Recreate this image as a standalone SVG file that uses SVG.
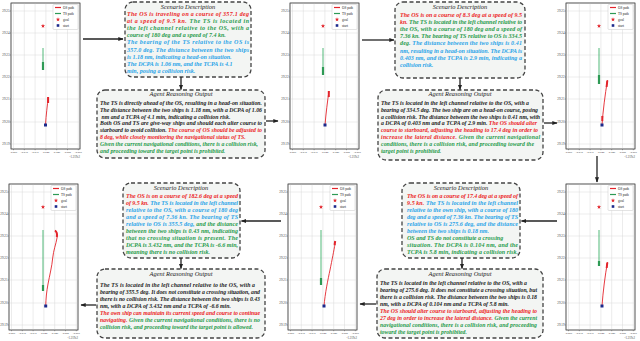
<svg xmlns="http://www.w3.org/2000/svg" xmlns:xlink="http://www.w3.org/1999/xlink" width="640" height="341" viewBox="0 0 640 341">
<style>
.bg{fill:#fff}
.box{fill:#f3f5f3;stroke:#444;stroke-width:1.3;stroke-dasharray:4 2.5}
.ttl{font-family:"Liberation Serif",serif;font-style:italic;font-size:6.4px;fill:#222;text-anchor:middle}
.t{font-family:"Liberation Serif",serif;font-style:italic;font-weight:bold;font-size:5.8px;fill:#1a1a1a}
.s{font-size:6px}
.r{fill:#ec1c24}.g{fill:#1e9a4a}.b{fill:#27a3e8}
.ax{fill:#fff;stroke:#555;stroke-width:0.6}
.axf{fill:none;stroke:#555;stroke-width:0.6}
.grid{fill:none;stroke:#d9d9d9;stroke-width:0.5}
.yl{font-family:"Liberation Serif",serif;font-size:3.2px;fill:#444;text-anchor:end}
.xl{font-family:"Liberation Serif",serif;font-size:2.7px;fill:#444;text-anchor:middle}
.off{font-family:"Liberation Serif",serif;font-size:3px;fill:#444;text-anchor:end}
.lg{font-family:"Liberation Serif",serif;font-size:3.4px;fill:#222}
.lgbox{fill:#fff;stroke:#bbb;stroke-width:0.4}
.os{fill:none;stroke:#e3242b;stroke-width:0.9}
.osk{fill:none;stroke:#e3242b;stroke-width:2}
.ts{fill:none;stroke:#3cb06a;stroke-width:0.9}
.tsk{fill:none;stroke:#2e9a55;stroke-width:2.2}
.st{fill:#1c2a8c}
.gl{fill:#e3242b}
.arr{stroke:#222;stroke-width:1.3;fill:none;marker-end:url(#ah)}
</style>
<defs>
<marker id="ah" viewBox="0 0 10 10" refX="9" refY="5" markerWidth="4" markerHeight="4" orient="auto"><path d="M0,1 L10,5 L0,9 z" fill="#222"/></marker>
<path id="star" d="M0,-2.2 L0.53,-0.73 L2.09,-0.68 L0.86,0.28 L1.29,1.78 L0,0.9 L-1.29,1.78 L-0.86,0.28 L-2.09,-0.68 L-0.53,-0.73 Z"/>
<g id="frame">
<rect class="ax" x="0" y="0" width="69" height="146"/>
<path class="grid" d="M2.5,0V146M13.3,0V146M24.1,0V146M34.9,0V146M45.7,0V146M56.5,0V146M67.3,0V146M0,8H69M0,30H69M0,52H69M0,74H69M0,96H69M0,119H69M0,141H69"/>
<rect class="axf" x="0" y="0" width="69" height="146"/>
<path stroke="#555" stroke-width="0.5" d="M-1.2,8H0M-1.2,30H0M-1.2,52H0M-1.2,74H0M-1.2,96H0M-1.2,119H0M-1.2,141H0M2.5,146V147.2M13.3,146V147.2M24.1,146V147.2M34.9,146V147.2M45.7,146V147.2M56.5,146V147.2M67.3,146V147.2"/>
<rect class="lgbox" x="42" y="1.5" width="25" height="25" rx="1"/>
<path d="M44,4.5H50" stroke="#e3242b" stroke-width="1.2"/>
<path d="M44,10.5H50" stroke="#2e9a55" stroke-width="1.2"/>
<use xlink:href="#star" x="47" y="16.5" style="fill:#e3242b"/>
<rect x="45.7" y="21.2" width="2.6" height="2.6" class="st"/>
</g>
</defs>
<rect class="bg" x="0" y="0" width="640" height="341"/>

<g id="plotA" transform="translate(11,3)">
<use xlink:href="#frame"/>
<text class="yl"><tspan x="-1.5" y="9.1">29.25</tspan><tspan x="-1.5" y="31.1">29.24</tspan><tspan x="-1.5" y="53.1">29.23</tspan><tspan x="-1.5" y="75.1">29.22</tspan><tspan x="-1.5" y="97.1">29.21</tspan><tspan x="-1.5" y="120.1">29.20</tspan><tspan x="-1.5" y="142.1">29.19</tspan></text>
<text class="xl"><tspan x="2.5" y="149.8">-0.025</tspan><tspan x="13.3" y="149.8">-0.030</tspan><tspan x="24.1" y="149.8">-0.035</tspan><tspan x="34.9" y="149.8">-0.040</tspan><tspan x="45.7" y="149.8">-0.045</tspan><tspan x="56.5" y="149.8">-0.050</tspan><tspan x="67.3" y="149.8">-0.055</tspan></text>
<text class="off" x="69" y="154.5">-1.219e2</text>
<text class="lg"><tspan x="52" y="5.6">OS path</tspan><tspan x="52" y="11.6">TS path</tspan><tspan x="52" y="17.6">goal</tspan><tspan x="52" y="23.6">start</tspan></text>
<path class="ts" d="M32,45V60"/><path class="tsk" d="M32,59V67"/>
<path class="os" d="M34.5,122 C35,112 36.5,102 37.2,94"/><path class="osk" d="M37.1,94V100"/>
<use xlink:href="#star" x="32" y="23" style="fill:#e3242b"/>
<rect class="st" x="33" y="120.5" width="3" height="3"/>
</g>

<g id="plotB" transform="translate(290,3)">
<use xlink:href="#frame"/>
<text class="yl"><tspan x="-1.5" y="9.1">29.25</tspan><tspan x="-1.5" y="31.1">29.24</tspan><tspan x="-1.5" y="53.1">29.23</tspan><tspan x="-1.5" y="75.1">29.22</tspan><tspan x="-1.5" y="97.1">29.21</tspan><tspan x="-1.5" y="120.1">29.20</tspan><tspan x="-1.5" y="142.1">29.19</tspan></text>
<text class="xl"><tspan x="2.5" y="149.8">-0.025</tspan><tspan x="13.3" y="149.8">-0.030</tspan><tspan x="24.1" y="149.8">-0.035</tspan><tspan x="34.9" y="149.8">-0.040</tspan><tspan x="45.7" y="149.8">-0.045</tspan><tspan x="56.5" y="149.8">-0.050</tspan><tspan x="67.3" y="149.8">-0.055</tspan></text>
<text class="off" x="69" y="154.5">-1.219e2</text>
<text class="lg"><tspan x="52" y="5.6">OS path</tspan><tspan x="52" y="11.6">TS path</tspan><tspan x="52" y="17.6">goal</tspan><tspan x="52" y="23.6">start</tspan></text>
<path class="ts" d="M33,45V66"/><path class="tsk" d="M33,64V72"/>
<path class="os" d="M35,122 C36,110 37.5,98 39,88"/><path class="osk" d="M38.8,88V94"/>
<use xlink:href="#star" x="33" y="23" style="fill:#e3242b"/>
<rect class="st" x="33.5" y="120.5" width="3" height="3"/>
</g>

<g id="plotC" transform="translate(566,3)">
<use xlink:href="#frame"/>
<text class="yl"><tspan x="-1.5" y="9.1">29.25</tspan><tspan x="-1.5" y="31.1">29.24</tspan><tspan x="-1.5" y="53.1">29.23</tspan><tspan x="-1.5" y="75.1">29.22</tspan><tspan x="-1.5" y="97.1">29.21</tspan><tspan x="-1.5" y="120.1">29.20</tspan><tspan x="-1.5" y="142.1">29.19</tspan></text>
<text class="xl"><tspan x="2.5" y="149.8">-0.025</tspan><tspan x="13.3" y="149.8">-0.030</tspan><tspan x="24.1" y="149.8">-0.035</tspan><tspan x="34.9" y="149.8">-0.040</tspan><tspan x="45.7" y="149.8">-0.045</tspan><tspan x="56.5" y="149.8">-0.050</tspan><tspan x="67.3" y="149.8">-0.055</tspan></text>
<text class="off" x="69" y="154.5">-1.219e2</text>
<text class="lg"><tspan x="52" y="5.6">OS path</tspan><tspan x="52" y="11.6">TS path</tspan><tspan x="52" y="17.6">goal</tspan><tspan x="52" y="23.6">start</tspan></text>
<path class="ts" d="M33,45V72"/><path class="tsk" d="M33,72V81"/>
<path class="os" d="M36,122 C37,108 39,92 41.5,77"/><path class="osk" d="M36.3,113V118M41.3,77.5L40.6,84"/>
<use xlink:href="#star" x="33" y="23" style="fill:#e3242b"/>
<rect class="st" x="34.5" y="120.5" width="3" height="3"/>
</g>

<g id="plotD" transform="translate(9,184)">
<use xlink:href="#frame"/>
<text class="yl"><tspan x="-1.5" y="9.1">29.25</tspan><tspan x="-1.5" y="31.1">29.24</tspan><tspan x="-1.5" y="53.1">29.23</tspan><tspan x="-1.5" y="75.1">29.22</tspan><tspan x="-1.5" y="97.1">29.21</tspan><tspan x="-1.5" y="120.1">29.20</tspan><tspan x="-1.5" y="142.1">29.19</tspan></text>
<text class="xl"><tspan x="2.5" y="149.8">-0.025</tspan><tspan x="13.3" y="149.8">-0.030</tspan><tspan x="24.1" y="149.8">-0.035</tspan><tspan x="34.9" y="149.8">-0.040</tspan><tspan x="45.7" y="149.8">-0.045</tspan><tspan x="56.5" y="149.8">-0.050</tspan><tspan x="67.3" y="149.8">-0.055</tspan></text>
<text class="off" x="69" y="154.5">-1.219e2</text>
<text class="lg"><tspan x="52" y="5.6">OS path</tspan><tspan x="52" y="11.6">TS path</tspan><tspan x="52" y="17.6">goal</tspan><tspan x="52" y="23.6">start</tspan></text>
<path class="ts" d="M34,46V102"/><path class="tsk" d="M34,101V107"/>
<path class="os" d="M36.7,122 C37,114 37.5,108 39,100 C40.5,92 43,82 43.7,74 C44.5,66 47,60 48,54 C48.6,50 47.5,47 46,46"/><path class="osk" d="M47.8,53 C48.3,50 47.4,47.5 46,46.5"/>
<use xlink:href="#star" x="34" y="23" style="fill:#e3242b"/>
<rect class="st" x="35.2" y="120.5" width="3" height="3"/>
</g>

<g id="plotE" transform="translate(288,184)">
<use xlink:href="#frame"/>
<text class="yl"><tspan x="-1.5" y="9.1">29.25</tspan><tspan x="-1.5" y="31.1">29.24</tspan><tspan x="-1.5" y="53.1">29.23</tspan><tspan x="-1.5" y="75.1">29.22</tspan><tspan x="-1.5" y="97.1">29.21</tspan><tspan x="-1.5" y="120.1">29.20</tspan><tspan x="-1.5" y="142.1">29.19</tspan></text>
<text class="xl"><tspan x="2.5" y="149.8">-0.025</tspan><tspan x="13.3" y="149.8">-0.030</tspan><tspan x="24.1" y="149.8">-0.035</tspan><tspan x="34.9" y="149.8">-0.040</tspan><tspan x="45.7" y="149.8">-0.045</tspan><tspan x="56.5" y="149.8">-0.050</tspan><tspan x="67.3" y="149.8">-0.055</tspan></text>
<text class="off" x="69" y="154.5">-1.219e2</text>
<text class="lg"><tspan x="52" y="5.6">OS path</tspan><tspan x="52" y="11.6">TS path</tspan><tspan x="52" y="17.6">goal</tspan><tspan x="52" y="23.6">start</tspan></text>
<path class="ts" d="M33,46V95"/><path class="tsk" d="M33,94V101"/>
<path class="os" d="M36,122 C37,110 40,95 42,86 C44,76 46,66 47,60"/><path class="osk" d="M46.6,61L47.2,57"/>
<use xlink:href="#star" x="33" y="23" style="fill:#e3242b"/>
<rect class="st" x="34.5" y="120.5" width="3" height="3"/>
</g>

<g id="plotF" transform="translate(566,184)">
<use xlink:href="#frame"/>
<text class="yl"><tspan x="-1.5" y="9.1">29.25</tspan><tspan x="-1.5" y="31.1">29.24</tspan><tspan x="-1.5" y="53.1">29.23</tspan><tspan x="-1.5" y="75.1">29.22</tspan><tspan x="-1.5" y="97.1">29.21</tspan><tspan x="-1.5" y="120.1">29.20</tspan><tspan x="-1.5" y="142.1">29.19</tspan></text>
<text class="xl"><tspan x="2.5" y="149.8">-0.025</tspan><tspan x="13.3" y="149.8">-0.030</tspan><tspan x="24.1" y="149.8">-0.035</tspan><tspan x="34.9" y="149.8">-0.040</tspan><tspan x="45.7" y="149.8">-0.045</tspan><tspan x="56.5" y="149.8">-0.050</tspan><tspan x="67.3" y="149.8">-0.055</tspan></text>
<text class="off" x="69" y="154.5">-1.219e2</text>
<text class="lg"><tspan x="52" y="5.6">OS path</tspan><tspan x="52" y="11.6">TS path</tspan><tspan x="52" y="17.6">goal</tspan><tspan x="52" y="23.6">start</tspan></text>
<path class="ts" d="M33,46V77"/><path class="tsk" d="M33,77V82"/>
<path class="os" d="M36,122 C37,108 39,92 41.5,78"/><path class="osk" d="M41.3,78.5L40.7,84"/>
<use xlink:href="#star" x="33" y="23" style="fill:#e3242b"/>
<rect class="st" x="34.5" y="120.5" width="3" height="3"/>
</g>

<g id="scen1">
<rect class="box" x="125" y="2" width="126" height="75" rx="8"/>
<text class="ttl" x="188" y="8.5">Scenario Description</text>
<text class="t s" x="127" y="16" textLength="122" lengthAdjust="spacing"><tspan class="r">The OS is traveling on a course of 357.1 deg</tspan></text>
<text class="t s" x="127" y="23.1" textLength="122" lengthAdjust="spacing"><tspan class="r">at a speed of 9.5 kn. </tspan><tspan class="g">The TS is located in</tspan></text>
<text class="t s" x="127" y="30.2" textLength="122" lengthAdjust="spacing"><tspan class="g">the left channel relative to the OS, with a</tspan></text>
<text class="t s" x="127" y="37.3"><tspan class="g">course of 180 deg and a speed of 7.4 kn.</tspan></text>
<text class="t s" x="127" y="44.4" textLength="122" lengthAdjust="spacing"><tspan class="b">The bearing of the TS relative to the OS is</tspan></text>
<text class="t s" x="127" y="51.5" textLength="122" lengthAdjust="spacing"><tspan class="b">357.0 deg. The distance between the two ships</tspan></text>
<text class="t s" x="127" y="58.6"><tspan class="b">is 1.18 nm, indicating a head-on situation.</tspan></text>
<text class="t s" x="127" y="65.7"><tspan class="b">The DCPA is 1.06 nm, and the TCPA  is 4.1</tspan></text>
<text class="t s" x="127" y="72.8"><tspan class="b">min, posing a collision risk.</tspan></text>
</g>

<g id="reas1">
<rect class="box" x="97" y="90" width="168" height="68" rx="8"/>
<text class="ttl" x="181" y="95.8">Agent Reasoning Output</text>
<text class="t" x="100" y="105" textLength="162" lengthAdjust="spacing">The TS is directly ahead of the OS, resulting in a head-on situation.</text>
<text class="t" x="100" y="111.8" textLength="162" lengthAdjust="spacing">The distance between the two ships is 1.18 nm, with a DCPA of 1.06</text>
<text class="t" x="101.5" y="118.6">nm and a TCPA of 4.1 min, indicating a collision risk.</text>
<text class="t" x="100" y="125.4" textLength="162" lengthAdjust="spacing">Both OS and TS are give-way ships and should each alter course to</text>
<text class="t" x="100" y="132.2" textLength="162" lengthAdjust="spacing">starboard to avoid collision. <tspan class="r">The course of OS should be adjusted to</tspan></text>
<text class="t" x="100" y="139"><tspan class="r">8 deg, while closely monitoring the navigational status of TS.</tspan></text>
<text class="t" x="100" y="145.8" textLength="158" lengthAdjust="spacing"><tspan class="g">Given the current navigational conditions, there is a collision risk,</tspan></text>
<text class="t" x="100" y="152.6"><tspan class="g">and proceeding toward the target point is prohibited.</tspan></text>
</g>

<g id="scen2">
<rect class="box" x="395" y="2" width="130" height="76" rx="8"/>
<text class="ttl" x="460" y="8.5">Scenario Description</text>
<text class="t s" x="400" y="17" textLength="122" lengthAdjust="spacing"><tspan class="r">The OS is on a course of 8.3 deg at a speed of 9.5</tspan></text>
<text class="t s" x="400" y="24.1" textLength="122" lengthAdjust="spacing"><tspan class="r">kn.</tspan><tspan class="g"> The TS is located in the left channel relative to</tspan></text>
<text class="t s" x="400" y="31.2" textLength="122" lengthAdjust="spacing"><tspan class="g">the OS, with a course of 180 deg and a speed of</tspan></text>
<text class="t s" x="400" y="38.3" textLength="122" lengthAdjust="spacing"><tspan class="g">7.36 kn. The bearing of TS relative to OS is 334.5</tspan></text>
<text class="t s" x="400" y="45.4" textLength="122" lengthAdjust="spacing"><tspan class="g">deg.</tspan><tspan class="b"> The distance between the two ships is 0.41</tspan></text>
<text class="t s" x="400" y="52.5" textLength="122" lengthAdjust="spacing"><tspan class="b">nm, resulting in a head-on situation. The DCPA is</tspan></text>
<text class="t s" x="400" y="59.6" textLength="122" lengthAdjust="spacing"><tspan class="b">0.403 nm, and the TCPA is 2.9 min, indicating a</tspan></text>
<text class="t s" x="400" y="66.7"><tspan class="b">collision risk.</tspan></text>
</g>

<g id="reas2">
<rect class="box" x="378" y="90" width="165" height="70" rx="8"/>
<text class="ttl" x="460" y="95.8">Agent Reasoning Output</text>
<text class="t" x="381" y="105" textLength="148" lengthAdjust="spacing">The TS is located in the left channel relative to the OS, with a</text>
<text class="t" x="381" y="111.8" textLength="157" lengthAdjust="spacing">bearing of 334.5 deg. The two ship are on a head-on course, posing</text>
<text class="t" x="381" y="118.6" textLength="159" lengthAdjust="spacing">a collision risk. The distance between the two ships is 0.41 nm, with</text>
<text class="t" x="381" y="125.4" textLength="156" lengthAdjust="spacing">a DCPA of 0.403 nm and a TCPA of 2.9 min. <tspan class="r">The OS should alter</tspan></text>
<text class="t" x="381" y="132.2" textLength="157" lengthAdjust="spacing"><tspan class="r">course to starboard, adjusting the heading to 17.4 deg in order to</tspan></text>
<text class="t" x="381" y="139" textLength="159" lengthAdjust="spacing"><tspan class="r">increase the lateral distance.</tspan><tspan class="g"> Given the current navigational</tspan></text>
<text class="t" x="381" y="145.8" textLength="153" lengthAdjust="spacing"><tspan class="g">conditions, there is a collision risk, and proceeding toward the</tspan></text>
<text class="t" x="381" y="152.6"><tspan class="g">target point is prohibited.</tspan></text>
</g>

<g id="scen3">
<rect class="box" x="123" y="183" width="117" height="75" rx="8"/>
<text class="ttl" x="181" y="189.5">Scenario Description</text>
<text class="t s" x="126" y="197.5" textLength="112" lengthAdjust="spacing"><tspan class="r">The OS is on a course of 182.6 deg at a speed</tspan></text>
<text class="t s" x="126" y="204.6" textLength="112" lengthAdjust="spacing"><tspan class="r">of 9.5 kn.</tspan><tspan class="b"> The TS is located in the left channel</tspan></text>
<text class="t s" x="126" y="211.7" textLength="112" lengthAdjust="spacing"><tspan class="b">relative to the OS, with a course of 180 deg</tspan></text>
<text class="t s" x="126" y="218.8" textLength="112" lengthAdjust="spacing"><tspan class="b">and a speed of 7.36 kn. The bearing of TS</tspan></text>
<text class="t s" x="126" y="225.9" textLength="112" lengthAdjust="spacing"><tspan class="b">relative to OS is 355.5 deg,</tspan><tspan class="g"> and the distance</tspan></text>
<text class="t s" x="126" y="233" textLength="112" lengthAdjust="spacing"><tspan class="g">between the two ships is 0.43 nm, indicating</tspan></text>
<text class="t s" x="126" y="240.1" textLength="112" lengthAdjust="spacing"><tspan class="g">that no crossing situation is present. The</tspan></text>
<text class="t s" x="126" y="247.2" textLength="112" lengthAdjust="spacing"><tspan class="g">DCPA is 3.432 nm, and the TCPA is -6.6 min,</tspan></text>
<text class="t s" x="126" y="254.3"><tspan class="g">meaning there is no collision risk.</tspan></text>
</g>

<g id="reas3">
<rect class="box" x="97" y="269" width="168" height="69" rx="8"/>
<text class="ttl" x="181" y="275.8">Agent Reasoning Output</text>
<text class="t" x="100" y="287" textLength="155" lengthAdjust="spacing">The TS is located in the left channel relative to the OS, with a</text>
<text class="t" x="100" y="294" textLength="160" lengthAdjust="spacing">bearing of 355.5 deg. It does not constitute a crossing situation, and</text>
<text class="t" x="100" y="301" textLength="160" lengthAdjust="spacing">there is no collision risk. The distance between the two ships is 0.43</text>
<text class="t" x="100" y="308">nm, with a DCPA of 3.432 nm and a TCPA of -6.6 min.</text>
<text class="t" x="100" y="315" textLength="160" lengthAdjust="spacing"><tspan class="r">The own ship can maintain its current speed and course to continue</tspan></text>
<text class="t" x="100" y="322" textLength="160" lengthAdjust="spacing"><tspan class="r">navigating.</tspan><tspan class="g"> Given the current navigational conditions, there is no</tspan></text>
<text class="t" x="100" y="329"><tspan class="g">collision risk, and proceeding toward the target point is allowed.</tspan></text>
</g>

<g id="scen4">
<rect class="box" x="402" y="183" width="118" height="75" rx="8"/>
<text class="ttl" x="461" y="189.5">Scenario Description</text>
<text class="t s" x="407" y="197.5" textLength="111" lengthAdjust="spacing"><tspan class="r">The OS is on a course of 17.4 deg at a speed of</tspan></text>
<text class="t s" x="407" y="204.6" textLength="111" lengthAdjust="spacing"><tspan class="r">9.5 kn.</tspan><tspan class="b"> The TS is located in the left channel</tspan></text>
<text class="t s" x="407" y="211.7" textLength="111" lengthAdjust="spacing"><tspan class="b">relative to the own ship, with a course of 180</tspan></text>
<text class="t s" x="407" y="218.8" textLength="111" lengthAdjust="spacing"><tspan class="b">deg and a speed of 7.36 kn. The bearing of TS</tspan></text>
<text class="t s" x="407" y="225.9" textLength="111" lengthAdjust="spacing"><tspan class="b">relative to OS is 275.6 deg, and the distance</tspan></text>
<text class="t s" x="407" y="233"><tspan class="b">between the two ships is 0.18 nm.</tspan></text>
<text class="t s" x="407" y="240.1"><tspan class="g">OS and TS do not constitute a crossing</tspan></text>
<text class="t s" x="407" y="247.2" textLength="111" lengthAdjust="spacing"><tspan class="g">situation. The DCPA is 0.104 nm, and the</tspan></text>
<text class="t s" x="407" y="254.3" textLength="111" lengthAdjust="spacing"><tspan class="g">TCPA is 5.8 min, indicating a collision risk.</tspan></text>
</g>

<g id="reas4">
<rect class="box" x="377" y="269" width="166" height="69" rx="8"/>
<text class="ttl" x="460" y="275.8">Agent Reasoning Output</text>
<text class="t" x="380" y="285" textLength="147" lengthAdjust="spacing">The TS is located in the left channel relative to the OS, with a</text>
<text class="t" x="380" y="292" textLength="157" lengthAdjust="spacing">bearing of 275.6 deg. It does not constitute a crossing situation, but</text>
<text class="t" x="380" y="299" textLength="157" lengthAdjust="spacing">there is a collision risk. The distance between the two ships is 0.18</text>
<text class="t" x="380" y="306">nm, with a DCPA of 0.104 nm and a TCPA of 5.8 min.</text>
<text class="t" x="380" y="313" textLength="157" lengthAdjust="spacing"><tspan class="r">The OS should alter course to starboard, adjusting the heading to</tspan></text>
<text class="t" x="380" y="320" textLength="157" lengthAdjust="spacing"><tspan class="r">27 deg in order to increase the lateral distance.</tspan><tspan class="g"> Given the current</tspan></text>
<text class="t" x="380" y="327" textLength="157" lengthAdjust="spacing"><tspan class="g">navigational conditions, there is a collision risk, and proceeding</tspan></text>
<text class="t" x="380" y="334"><tspan class="g">toward the target point is prohibited.</tspan></text>
</g>

<g id="connectors">
<path class="arr" d="M83,39H123"/>
<path class="arr" d="M181,77V89.5"/>
<path class="arr" d="M266,121H278"/>
<path class="arr" d="M362,40H394"/>
<path class="arr" d="M460,78V89.5"/>
<path class="arr" d="M544,123H557"/>
<path class="arr" d="M597,156V182"/>
<path class="arr" d="M557,221H521.5"/>
<path class="arr" d="M462,258V268.5"/>
<path class="arr" d="M376,304H360"/>
<path class="arr" d="M281,221H241.5"/>
<path class="arr" d="M181,258V268.5"/>
<path class="arr" d="M96,305H81"/>
</g>
</svg>
